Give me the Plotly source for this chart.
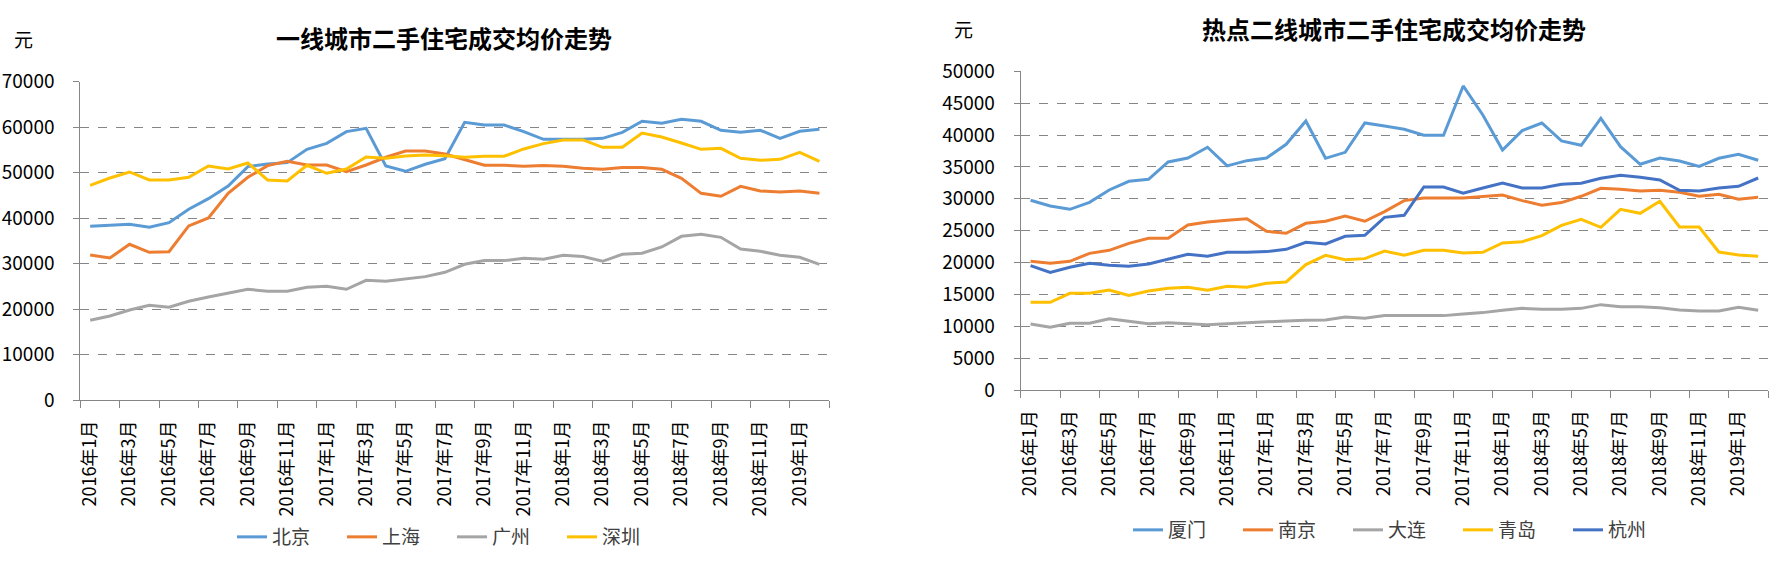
import plotly.graph_objects as go

months = [f"{y}年{m}月" for y, m in
          [(2016, m) for m in range(1, 13)] + [(2017, m) for m in range(1, 13)] +
          [(2018, m) for m in range(1, 13)] + [(2019, 1), (2019, 2)]]

# 一线城市
beijing = [38240, 38390, 38680, 38020, 39050, 41980, 44320, 47110, 51360, 51940, 52230, 55160, 56480,
           59050, 59780, 51500, 50330, 51870, 53110, 61100, 60510, 60510, 59050, 57360, 57290, 57360,
           57580, 58900, 61320, 60880, 61760, 61320, 59340, 58900, 59340, 57580, 59120, 59560]
shanghai = [31940, 31280, 34290, 32530, 32670, 38320, 40070, 45490, 49010, 51580, 52530, 51720, 51720,
            50260, 51720, 53410, 54800, 54800, 54140, 52820, 51650, 51650, 51430, 51580, 51430, 50990,
            50770, 51140, 51140, 50770, 48790, 45490, 44840, 47030, 46010, 45790, 46010, 45490]
guangzhou = [17580, 18530, 19850, 20880, 20440, 21760, 22710, 23520, 24400, 23960, 23960, 24840, 25050,
             24400, 26370, 26150, 26740, 27180, 28130, 29890, 30700, 30700, 31210, 30990, 31870, 31580,
             30550, 32090, 32310, 33700, 36040, 36480, 35820, 33260, 32750, 31870, 31430, 29890]
shenzhen = [47250, 48860, 50180, 48420, 48420, 49010, 51500, 50840, 52160, 48420, 48200, 51650, 49890,
            50840, 53480, 53190, 53700, 53920, 53770, 53410, 53630, 53630, 55240, 56410, 57220, 57220,
            55600, 55600, 58750, 57880, 56560, 55160, 55380, 53190, 52750, 52970, 54510, 52530]

# 热点二线城市
xiamen = [29760, 28870, 28350, 29450, 31380, 32740, 33050, 35770, 36400, 38080, 35150, 35980, 36400,
          38550, 42210, 36350, 37290, 41890, 41420, 40900, 39960, 39960, 47700, 43150, 37660,
          40690, 41890, 39070, 38390, 42630, 38180, 35410, 36400, 35930, 35090, 36350, 36980, 36040]
nanjing = [20190, 19880, 20190, 21440, 21910, 23010, 23800, 23800, 25890, 26360, 26620, 26880, 24900,
           24580, 26150, 26470, 27300, 26470, 27980, 29710, 30130, 30130, 30130, 30340, 30600,
           29710, 28980, 29400, 30390, 31640, 31490, 31220, 31330, 31020, 30390, 30700, 29920, 30230]
dalian = [10360, 9830, 10460, 10460, 11190, 10770, 10410, 10560, 10410, 10250, 10410, 10560, 10770,
          10830, 10930, 10980, 11460, 11250, 11670, 11670, 11670, 11670, 11930, 12140, 12500,
          12810, 12660, 12660, 12810, 13390, 13070, 13070, 12920, 12550, 12390, 12390, 12970, 12500]
qingdao = [13760, 13760, 15170, 15170, 15690, 14850, 15540, 15950, 16110, 15640, 16270, 16110, 16740,
           16950, 19670, 21130, 20450, 20610, 21810, 21130, 21910, 21910, 21500, 21600, 23070,
           23270, 24220, 25840, 26780, 25520, 28350, 27720, 29600, 25570, 25570, 21650, 21180, 20970]
hangzhou = [19510, 18460, 19250, 19880, 19560, 19400, 19770, 20560, 21290, 20970, 21600, 21600, 21710,
            22070, 23170, 22910, 24110, 24270, 27090, 27410, 31850, 31850, 30860, 31700, 32480,
            31700, 31700, 32270, 32430, 33210, 33680, 33370, 32950, 31330, 31220, 31700, 31960, 33260]

left_series = [("北京", beijing, "#5B9BD5"), ("上海", shanghai, "#ED7D31"),
               ("广州", guangzhou, "#A5A5A5"), ("深圳", shenzhen, "#FFC000")]
right_series = [("厦门", xiamen, "#5B9BD5"), ("南京", nanjing, "#ED7D31"), ("大连", dalian, "#A5A5A5"),
                ("青岛", qingdao, "#FFC000"), ("杭州", hangzhou, "#4472C4")]

FONT = "Noto Sans CJK SC"
AX = "#868686"
idx = list(range(len(months)))

fig = go.Figure()
for name, vals, col in left_series:
    fig.add_trace(go.Scatter(x=idx, y=vals, name=name, mode="lines",
                             line=dict(color=col, width=3), xaxis="x", yaxis="y", legend="legend"))
for name, vals, col in right_series:
    fig.add_trace(go.Scatter(x=idx, y=vals, name=name, mode="lines",
                             line=dict(color=col, width=3), xaxis="x2", yaxis="y2", legend="legend2"))

even = idx[::2]
bounds = [i - 0.5 for i in range(0, len(months) + 1, 2)]


def xax(domain, anchor):
    return dict(domain=domain, anchor=anchor, range=[-0.5, len(months) - 0.5], tickmode="array",
                tickvals=even, ticktext=[months[i] for i in even], tickangle=-90,
                ticks="", showgrid=False, zeroline=False, showline=True, linecolor=AX, linewidth=1,
                tickfont=dict(family=FONT, size=18, color="#000"), ticklabelstandoff=12,
                minor=dict(tickmode="array", tickvals=bounds, ticks="outside", ticklen=7,
                           tickcolor=AX, tickwidth=1, showgrid=False),
                automargin=False, fixedrange=True)


def yax(domain, anchor, top, step):
    return dict(domain=domain, anchor=anchor, range=[0, top], tickmode="linear", tick0=0, dtick=step,
                tickformat="d",
                showgrid=True, gridcolor=AX, gridwidth=1, griddash="dash", zeroline=False,
                showline=True, linecolor=AX, linewidth=1, ticks="outside", ticklen=6, tickcolor=AX,
                tickfont=dict(family=FONT, size=19, color="#000"), ticklabelstandoff=15,
                automargin=False, fixedrange=True)


W, H = 1781, 586
fig.update_layout(
    width=W, height=H, margin=dict(l=0, r=0, t=0, b=0),
    paper_bgcolor="white", plot_bgcolor="white",
    xaxis=xax([80.3 / W, 829.3 / W], "y"),
    yaxis=yax([(H - 400.3) / H, (H - 81.8) / H], "x", 70000, 10000),
    xaxis2=xax([1020.7 / W, 1768 / W], "y2"),
    yaxis2=yax([(H - 390) / H, (H - 71.3) / H], "x2", 50000, 5000),
    legend=dict(orientation="h", x=232 / W, xanchor="left", y=(H - 537) / H, yanchor="middle",
                font=dict(family=FONT, size=19, color="#404040"), entrywidth=65,
                bgcolor="rgba(0,0,0,0)"),
    legend2=dict(orientation="h", x=1128 / W, xanchor="left", y=(H - 530) / H, yanchor="middle",
                 font=dict(family=FONT, size=19, color="#404040"), entrywidth=65,
                 bgcolor="rgba(0,0,0,0)"),
    annotations=[
        dict(text="<b>一线城市二手住宅成交均价走势</b>", x=443.5 / W, y=(H - 38) / H, xref="paper",
             yref="paper", showarrow=False, xanchor="center", yanchor="middle",
             font=dict(family=FONT, size=24, color="#000")),
        dict(text="<b>热点二线城市二手住宅成交均价走势</b>", x=1394 / W, y=(H - 28) / H, xref="paper",
             yref="paper", showarrow=False, xanchor="center", yanchor="middle",
             font=dict(family=FONT, size=24, color="#000")),
        dict(text="元", x=23 / W, y=(H - 39) / H, xref="paper", yref="paper", showarrow=False,
             xanchor="center", yanchor="middle", font=dict(family=FONT, size=19, color="#000")),
        dict(text="元", x=964 / W, y=(H - 29) / H, xref="paper", yref="paper", showarrow=False,
             xanchor="center", yanchor="middle", font=dict(family=FONT, size=19, color="#000")),
    ],
    hovermode=False,
)

fig.write_html("out.html")
